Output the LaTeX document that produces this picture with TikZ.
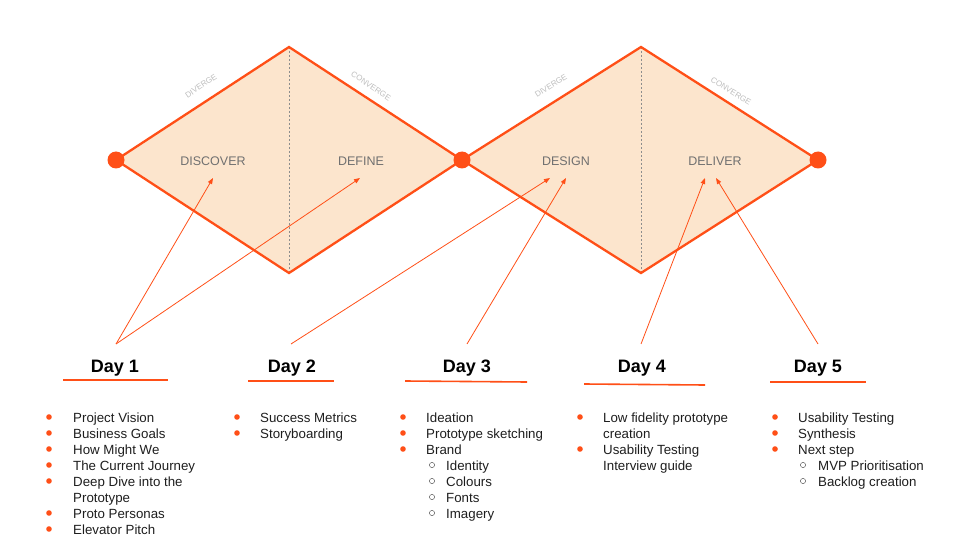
\documentclass[tikz,border=0pt]{standalone}
\usepackage{fontspec}
\setmainfont{Liberation Sans}
\usetikzlibrary{arrows.meta}
\definecolor{org}{HTML}{FF4F17}
\definecolor{peach}{HTML}{FCE5CD}
\definecolor{lbl}{HTML}{707070}
\definecolor{faint}{HTML}{BDBDBD}
\definecolor{txt}{HTML}{1E1E1E}
\begin{document}
\begin{tikzpicture}[x=1pt,y=-1pt,
  outline/.style={draw=org, line width=2.3pt, line join=miter},
  midline/.style={draw=lbl!80, line width=0.6pt, dash pattern=on 2pt off 2pt},
  phase/.style={font=\fontsize{12.5}{14}\selectfont, text=lbl, inner sep=0pt},
  mode/.style={font=\fontsize{8}{9}\selectfont, text=faint, inner sep=0pt},
  dayhead/.style={font=\bfseries\fontsize{18}{20}\selectfont, text=black, anchor=base, inner sep=0pt},
  uline/.style={draw=org, line width=1.6pt},
  arr/.style={draw=org, line width=0.8pt, -{Triangle[length=6pt,width=4.5pt]}},
  item/.style={font=\fontsize{13.3}{16}\selectfont, text=txt, anchor=base west, inner sep=0pt},
  bul/.style={fill=org},
  subbul/.style={draw=txt!70, line width=0.5pt}
]
\useasboundingbox (0,0) rectangle (960,540);

% diamonds
\fill[peach] (116,160) -- (289,47) -- (462,160) -- (289,273) -- cycle;
\fill[peach] (462,160) -- (641,47) -- (818,160) -- (641,273) -- cycle;
\draw[midline] (289,47) -- (289,273);
\draw[midline] (641,47) -- (641,273);
\draw[outline] (116,160) -- (289,47) -- (462,160) -- (641,47) -- (818,160)
  -- (641,273) -- (462,160) -- (289,273) -- cycle;
\fill[org] (116,160) circle (8.5);
\fill[org] (462,160) circle (8.5);
\fill[org] (818,160) circle (8.5);

% mode labels
\node[mode, rotate=34] (dv1) at (201,86) {DIVERGE};
\node[mode, rotate=-34] (cv1) at (371,86) {CONVERGE};
\node[mode, rotate=32] (dv2) at (551,86) {DIVERGE};
\node[mode, rotate=-32] (cv2) at (731,91) {CONVERGE};

% phase labels
\node[phase] (discover) at (213,161) {DISCOVER};
\node[phase] (define) at (361,161) {DEFINE};
\node[phase] (design) at (566,161) {DESIGN};
\node[phase] (deliver) at (715,161) {DELIVER};

% arrow targets
\coordinate (t1a) at (213,178);
\coordinate (t1b) at (360,178);
\coordinate (t2) at (550,178);
\coordinate (t3) at (566,178);
\coordinate (t4) at (705,178);
\coordinate (t5) at (716,178);

% day headers
\node[dayhead] (d1) at (115,372) {Day 1};
\node[dayhead] (d2) at (292,372) {Day 2};
\node[dayhead] (d3) at (467,372) {Day 3};
\node[dayhead] (d4) at (642,372) {Day 4};
\node[dayhead] (d5) at (818,372) {Day 5};

\coordinate (s1) at (116,344);
\coordinate (s2) at (291,344);
\coordinate (s3) at (467,344);
\coordinate (s4) at (641,344);
\coordinate (s5) at (818,344);

\draw[arr] (s1) -- (t1a);
\draw[arr] (s1) -- (t1b);
\draw[arr] (s2) -- (t2);
\draw[arr] (s3) -- (t3);
\draw[arr] (s4) -- (t4);
\draw[arr] (s5) -- (t5);

% underlines
\coordinate (u1a) at (63,380);  \coordinate (u1b) at (168,380);
\coordinate (u2a) at (248,381); \coordinate (u2b) at (334,381);
\coordinate (u3a) at (405,381); \coordinate (u3b) at (527,382);
\coordinate (u4a) at (584,384); \coordinate (u4b) at (705,385);
\coordinate (u5a) at (770,382); \coordinate (u5b) at (866,382);
\draw[uline] (u1a) -- (u1b);
\draw[uline] (u2a) -- (u2b);
\draw[uline] (u3a) -- (u3b);
\draw[uline] (u4a) -- (u4b);
\draw[uline] (u5a) -- (u5b);

% Day 1 list
\fill[bul] (49,417) circle (2.8);
\fill[bul] (49,433) circle (2.8);
\fill[bul] (49,449) circle (2.8);
\fill[bul] (49,465) circle (2.8);
\fill[bul] (49,481) circle (2.8);
\fill[bul] (49,513) circle (2.8);
\fill[bul] (49,529) circle (2.8);
\node[item] (a1) at (73,422) {Project Vision};
\node[item] (a2) at (73,438) {Business Goals};
\node[item] (a3) at (73,454) {How Might We};
\node[item] (a4) at (73,470) {The Current Journey};
\node[item] (a5) at (73,486) {Deep Dive into the};
\node[item] (a6) at (73,502) {Prototype};
\node[item] (a7) at (73,518) {Proto Personas};
\node[item] (a8) at (73,534) {Elevator Pitch};

% Day 2 list
\fill[bul] (237,417) circle (2.8);
\fill[bul] (237,433) circle (2.8);
\node[item] (b1) at (260,422) {Success Metrics};
\node[item] (b2) at (260,438) {Storyboarding};

% Day 3 list
\fill[bul] (403,417) circle (2.8);
\fill[bul] (403,433) circle (2.8);
\fill[bul] (403,449) circle (2.8);
\draw[subbul] (432,465) circle (2.6);
\draw[subbul] (432,481) circle (2.6);
\draw[subbul] (432,497) circle (2.6);
\draw[subbul] (432,513) circle (2.6);
\node[item] (c1) at (426,422) {Ideation};
\node[item] (c2) at (426,438) {Prototype sketching};
\node[item] (c3) at (426,454) {Brand};
\node[item] (c4) at (446,470) {Identity};
\node[item] (c5) at (446,486) {Colours};
\node[item] (c6) at (446,502) {Fonts};
\node[item] (c7) at (446,518) {Imagery};

% Day 4 list
\fill[bul] (580,417) circle (2.8);
\fill[bul] (580,449) circle (2.8);
\node[item] (e1) at (603,422) {Low fidelity prototype};
\node[item] (e2) at (603,438) {creation};
\node[item] (e3) at (603,454) {Usability Testing};
\node[item] (e4) at (603,470) {Interview guide};

% Day 5 list
\fill[bul] (775,417) circle (2.8);
\fill[bul] (775,433) circle (2.8);
\fill[bul] (775,449) circle (2.8);
\draw[subbul] (803,465) circle (2.6);
\draw[subbul] (803,481) circle (2.6);
\node[item] (f1) at (798,422) {Usability Testing};
\node[item] (f2) at (798,438) {Synthesis};
\node[item] (f3) at (798,454) {Next step};
\node[item] (f4) at (818,470) {MVP Prioritisation};
\node[item] (f5) at (818,486) {Backlog creation};
\end{tikzpicture}
\end{document}
